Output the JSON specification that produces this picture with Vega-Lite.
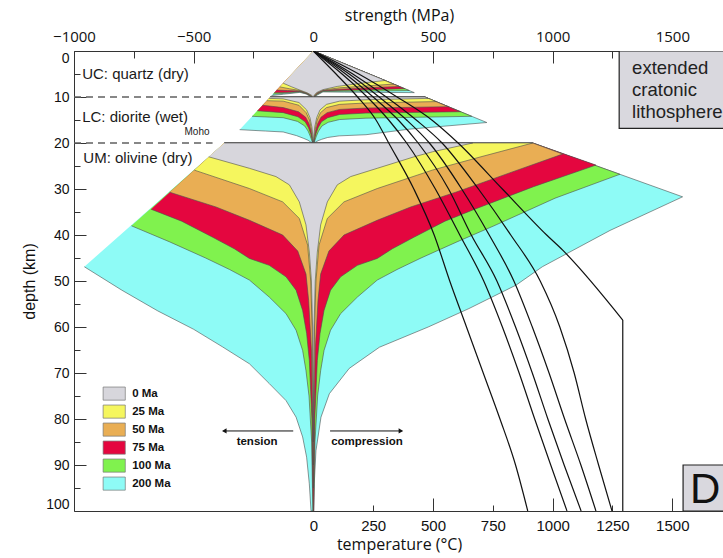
{
"$schema":"https://vega.github.io/schema/vega-lite/v6.json",
"width":650,"height":460,
"autosize":"none",
"padding":{"left":74,"top":51,"right":0,"bottom":47},
"background":"white",
"config":{"view":{"stroke":"#333","strokeWidth":1},"axis":{"grid":false,"domain":false,"tickColor":"#333","labelColor":"#111","titleColor":"#111","titleFontWeight":"normal","tickWidth":1}},
"datasets":{
"env":[
{"g":"U200","age":"200 Ma","S":0,"d":0},{"g":"U200","age":"200 Ma","S":422,"d":9.05},{"g":"U200","age":"200 Ma","S":260,"d":9.0},{"g":"U200","age":"200 Ma","S":130,"d":8.95},{"g":"U200","age":"200 Ma","S":40,"d":8.9},{"g":"U200","age":"200 Ma","S":19,"d":9.5},{"g":"U200","age":"200 Ma","S":9,"d":9.85},{"g":"U200","age":"200 Ma","S":5,"d":10},{"g":"U200","age":"200 Ma","S":-5,"d":10},{"g":"U200","age":"200 Ma","S":-13,"d":9.85},{"g":"U200","age":"200 Ma","S":-30,"d":9.35},{"g":"U200","age":"200 Ma","S":-56,"d":9.0},{"g":"U200","age":"200 Ma","S":-125,"d":9.4},{"g":"U200","age":"200 Ma","S":-175,"d":9.7},
{"g":"L200","age":"200 Ma","S":-180,"d":10},{"g":"L200","age":"200 Ma","S":466,"d":10},{"g":"L200","age":"200 Ma","S":725,"d":15.55},{"g":"L200","age":"200 Ma","S":400,"d":17.0},{"g":"L200","age":"200 Ma","S":220,"d":18.2},{"g":"L200","age":"200 Ma","S":108,"d":18.45},{"g":"L200","age":"200 Ma","S":60,"d":18.8},{"g":"L200","age":"200 Ma","S":35,"d":19.2},{"g":"L200","age":"200 Ma","S":20,"d":19.5},{"g":"L200","age":"200 Ma","S":10,"d":19.8},{"g":"L200","age":"200 Ma","S":6,"d":20},{"g":"L200","age":"200 Ma","S":-6,"d":20},{"g":"L200","age":"200 Ma","S":-11,"d":19.8},{"g":"L200","age":"200 Ma","S":-22,"d":19.4},{"g":"L200","age":"200 Ma","S":-40,"d":19.0},{"g":"L200","age":"200 Ma","S":-70,"d":18.4},{"g":"L200","age":"200 Ma","S":-126,"d":17.6},{"g":"L200","age":"200 Ma","S":-200,"d":17.4},{"g":"L200","age":"200 Ma","S":-308,"d":17.1},
{"g":"M200","age":"200 Ma","S":-372,"d":20},{"g":"M200","age":"200 Ma","S":917,"d":20},{"g":"M200","age":"200 Ma","S":1543,"d":31.7},{"g":"M200","age":"200 Ma","S":1240,"d":39},{"g":"M200","age":"200 Ma","S":957,"d":46.9},{"g":"M200","age":"200 Ma","S":847,"d":50.9},{"g":"M200","age":"200 Ma","S":650,"d":56},{"g":"M200","age":"200 Ma","S":480,"d":60},{"g":"M200","age":"200 Ma","S":276,"d":64.4},{"g":"M200","age":"200 Ma","S":150,"d":69},{"g":"M200","age":"200 Ma","S":67,"d":74.5},{"g":"M200","age":"200 Ma","S":32,"d":79.6},{"g":"M200","age":"200 Ma","S":11,"d":86.9},{"g":"M200","age":"200 Ma","S":4,"d":94},{"g":"M200","age":"200 Ma","S":1,"d":100},{"g":"M200","age":"200 Ma","S":-9.6,"d":100},{"g":"M200","age":"200 Ma","S":-16.7,"d":94.1},{"g":"M200","age":"200 Ma","S":-28,"d":88.3},{"g":"M200","age":"200 Ma","S":-44.7,"d":83.9},{"g":"M200","age":"200 Ma","S":-72,"d":79.6},{"g":"M200","age":"200 Ma","S":-114,"d":76},{"g":"M200","age":"200 Ma","S":-184,"d":72.3},{"g":"M200","age":"200 Ma","S":-267,"d":68},{"g":"M200","age":"200 Ma","S":-380,"d":64.3},{"g":"M200","age":"200 Ma","S":-500,"d":60.5},{"g":"M200","age":"200 Ma","S":-650,"d":56.5},{"g":"M200","age":"200 Ma","S":-800,"d":52},{"g":"M200","age":"200 Ma","S":-957,"d":46.9},
{"g":"U100","age":"100 Ma","S":0,"d":0},{"g":"U100","age":"100 Ma","S":401,"d":8.6},{"g":"U100","age":"100 Ma","S":250,"d":8.7},{"g":"U100","age":"100 Ma","S":125,"d":8.75},{"g":"U100","age":"100 Ma","S":40,"d":8.8},{"g":"U100","age":"100 Ma","S":18,"d":9.4},{"g":"U100","age":"100 Ma","S":8,"d":9.8},{"g":"U100","age":"100 Ma","S":4,"d":10},{"g":"U100","age":"100 Ma","S":-4,"d":10},{"g":"U100","age":"100 Ma","S":-12,"d":9.8},{"g":"U100","age":"100 Ma","S":-29,"d":9.3},{"g":"U100","age":"100 Ma","S":-56,"d":8.9},{"g":"U100","age":"100 Ma","S":-120,"d":9.2},{"g":"U100","age":"100 Ma","S":-169,"d":9.4},
{"g":"L100","age":"100 Ma","S":-180,"d":10},{"g":"L100","age":"100 Ma","S":466,"d":10},{"g":"L100","age":"100 Ma","S":662,"d":14.2},{"g":"L100","age":"100 Ma","S":220,"d":14.6},{"g":"L100","age":"100 Ma","S":110,"d":14.9},{"g":"L100","age":"100 Ma","S":62,"d":15.5},{"g":"L100","age":"100 Ma","S":36,"d":16.3},{"g":"L100","age":"100 Ma","S":22,"d":17.4},{"g":"L100","age":"100 Ma","S":13,"d":18.5},{"g":"L100","age":"100 Ma","S":7,"d":19.4},{"g":"L100","age":"100 Ma","S":3,"d":20},{"g":"L100","age":"100 Ma","S":-3,"d":20},{"g":"L100","age":"100 Ma","S":-7,"d":19.4},{"g":"L100","age":"100 Ma","S":-13,"d":18.5},{"g":"L100","age":"100 Ma","S":-22,"d":17.4},{"g":"L100","age":"100 Ma","S":-36,"d":16.3},{"g":"L100","age":"100 Ma","S":-66,"d":15.3},{"g":"L100","age":"100 Ma","S":-126,"d":14.5},{"g":"L100","age":"100 Ma","S":-256,"d":14.2},
{"g":"M100","age":"100 Ma","S":-372,"d":20},{"g":"M100","age":"100 Ma","S":917,"d":20},{"g":"M100","age":"100 Ma","S":1281,"d":26.8},{"g":"M100","age":"100 Ma","S":1010,"d":32},{"g":"M100","age":"100 Ma","S":755,"d":38},{"g":"M100","age":"100 Ma","S":600,"d":41.5},{"g":"M100","age":"100 Ma","S":450,"d":45},{"g":"M100","age":"100 Ma","S":350,"d":47.5},{"g":"M100","age":"100 Ma","S":267,"d":49.8},{"g":"M100","age":"100 Ma","S":184,"d":53.5},{"g":"M100","age":"100 Ma","S":114,"d":57.1},{"g":"M100","age":"100 Ma","S":72,"d":60.7},{"g":"M100","age":"100 Ma","S":44.7,"d":65.1},{"g":"M100","age":"100 Ma","S":30.6,"d":69.5},{"g":"M100","age":"100 Ma","S":18,"d":75},{"g":"M100","age":"100 Ma","S":7,"d":85},{"g":"M100","age":"100 Ma","S":2,"d":100},{"g":"M100","age":"100 Ma","S":-2,"d":100},{"g":"M100","age":"100 Ma","S":-7,"d":85},{"g":"M100","age":"100 Ma","S":-18,"d":75},{"g":"M100","age":"100 Ma","S":-30.6,"d":69.5},{"g":"M100","age":"100 Ma","S":-44.7,"d":65.1},{"g":"M100","age":"100 Ma","S":-72,"d":60.7},{"g":"M100","age":"100 Ma","S":-114,"d":57.1},{"g":"M100","age":"100 Ma","S":-184,"d":53.5},{"g":"M100","age":"100 Ma","S":-267,"d":49.8},{"g":"M100","age":"100 Ma","S":-350,"d":47.5},{"g":"M100","age":"100 Ma","S":-450,"d":45},{"g":"M100","age":"100 Ma","S":-600,"d":41.5},{"g":"M100","age":"100 Ma","S":-760,"d":38},
{"g":"U75","age":"75 Ma","S":0,"d":0},{"g":"U75","age":"75 Ma","S":382,"d":8.2},{"g":"U75","age":"75 Ma","S":240,"d":8.4},{"g":"U75","age":"75 Ma","S":120,"d":8.55},{"g":"U75","age":"75 Ma","S":40,"d":8.7},{"g":"U75","age":"75 Ma","S":17,"d":9.3},{"g":"U75","age":"75 Ma","S":7,"d":9.75},{"g":"U75","age":"75 Ma","S":3,"d":10},{"g":"U75","age":"75 Ma","S":-3,"d":10},{"g":"U75","age":"75 Ma","S":-11,"d":9.75},{"g":"U75","age":"75 Ma","S":-28,"d":9.25},{"g":"U75","age":"75 Ma","S":-56,"d":8.8},{"g":"U75","age":"75 Ma","S":-115,"d":9.0},{"g":"U75","age":"75 Ma","S":-164,"d":9.1},
{"g":"L75","age":"75 Ma","S":-180,"d":10},{"g":"L75","age":"75 Ma","S":466,"d":10},{"g":"L75","age":"75 Ma","S":615,"d":13.2},{"g":"L75","age":"75 Ma","S":220,"d":13.5},{"g":"L75","age":"75 Ma","S":110,"d":13.8},{"g":"L75","age":"75 Ma","S":60,"d":14.5},{"g":"L75","age":"75 Ma","S":34,"d":15.4},{"g":"L75","age":"75 Ma","S":20,"d":16.7},{"g":"L75","age":"75 Ma","S":11,"d":18},{"g":"L75","age":"75 Ma","S":5,"d":19.2},{"g":"L75","age":"75 Ma","S":2,"d":20},{"g":"L75","age":"75 Ma","S":-2,"d":20},{"g":"L75","age":"75 Ma","S":-5,"d":19.2},{"g":"L75","age":"75 Ma","S":-11,"d":18},{"g":"L75","age":"75 Ma","S":-20,"d":16.7},{"g":"L75","age":"75 Ma","S":-34,"d":15.4},{"g":"L75","age":"75 Ma","S":-64,"d":14.3},{"g":"L75","age":"75 Ma","S":-126,"d":13.4},{"g":"L75","age":"75 Ma","S":-234,"d":13.0},
{"g":"M75","age":"75 Ma","S":-372,"d":20},{"g":"M75","age":"75 Ma","S":917,"d":20},{"g":"M75","age":"75 Ma","S":1181,"d":24.8},{"g":"M75","age":"75 Ma","S":920,"d":29.5},{"g":"M75","age":"75 Ma","S":674,"d":34.4},{"g":"M75","age":"75 Ma","S":550,"d":37},{"g":"M75","age":"75 Ma","S":420,"d":40.5},{"g":"M75","age":"75 Ma","S":330,"d":43},{"g":"M75","age":"75 Ma","S":267,"d":45.1},{"g":"M75","age":"75 Ma","S":184,"d":46.6},{"g":"M75","age":"75 Ma","S":114,"d":49.1},{"g":"M75","age":"75 Ma","S":72,"d":52},{"g":"M75","age":"75 Ma","S":44.7,"d":56.4},{"g":"M75","age":"75 Ma","S":28,"d":61.4},{"g":"M75","age":"75 Ma","S":16.7,"d":67.3},{"g":"M75","age":"75 Ma","S":6,"d":80},{"g":"M75","age":"75 Ma","S":1,"d":100},{"g":"M75","age":"75 Ma","S":-1,"d":100},{"g":"M75","age":"75 Ma","S":-6,"d":80},{"g":"M75","age":"75 Ma","S":-16.7,"d":67.3},{"g":"M75","age":"75 Ma","S":-28,"d":61.4},{"g":"M75","age":"75 Ma","S":-44.7,"d":56.4},{"g":"M75","age":"75 Ma","S":-72,"d":52},{"g":"M75","age":"75 Ma","S":-114,"d":49.1},{"g":"M75","age":"75 Ma","S":-184,"d":46.6},{"g":"M75","age":"75 Ma","S":-267,"d":45.1},{"g":"M75","age":"75 Ma","S":-330,"d":43},{"g":"M75","age":"75 Ma","S":-420,"d":40.5},{"g":"M75","age":"75 Ma","S":-550,"d":37},{"g":"M75","age":"75 Ma","S":-678,"d":34.4},
{"g":"U50","age":"50 Ma","S":0,"d":0},{"g":"U50","age":"50 Ma","S":359,"d":7.7},{"g":"U50","age":"50 Ma","S":230,"d":8.0},{"g":"U50","age":"50 Ma","S":115,"d":8.3},{"g":"U50","age":"50 Ma","S":40,"d":8.6},{"g":"U50","age":"50 Ma","S":16,"d":9.2},{"g":"U50","age":"50 Ma","S":6,"d":9.7},{"g":"U50","age":"50 Ma","S":2,"d":10},{"g":"U50","age":"50 Ma","S":-2,"d":10},{"g":"U50","age":"50 Ma","S":-10,"d":9.7},{"g":"U50","age":"50 Ma","S":-27,"d":9.2},{"g":"U50","age":"50 Ma","S":-56,"d":8.7},{"g":"U50","age":"50 Ma","S":-108,"d":8.6},{"g":"U50","age":"50 Ma","S":-153,"d":8.5},
{"g":"L50","age":"50 Ma","S":-180,"d":10},{"g":"L50","age":"50 Ma","S":466,"d":10},{"g":"L50","age":"50 Ma","S":564,"d":12.1},{"g":"L50","age":"50 Ma","S":220,"d":12.4},{"g":"L50","age":"50 Ma","S":110,"d":12.7},{"g":"L50","age":"50 Ma","S":58,"d":13.4},{"g":"L50","age":"50 Ma","S":32,"d":14.4},{"g":"L50","age":"50 Ma","S":18,"d":15.8},{"g":"L50","age":"50 Ma","S":9,"d":17.5},{"g":"L50","age":"50 Ma","S":4,"d":19},{"g":"L50","age":"50 Ma","S":1,"d":20},{"g":"L50","age":"50 Ma","S":-1,"d":20},{"g":"L50","age":"50 Ma","S":-4,"d":19},{"g":"L50","age":"50 Ma","S":-9,"d":17.5},{"g":"L50","age":"50 Ma","S":-18,"d":15.8},{"g":"L50","age":"50 Ma","S":-32,"d":14.4},{"g":"L50","age":"50 Ma","S":-62,"d":13.2},{"g":"L50","age":"50 Ma","S":-126,"d":12.3},{"g":"L50","age":"50 Ma","S":-212,"d":11.8},
{"g":"M50","age":"50 Ma","S":-372,"d":20},{"g":"M50","age":"50 Ma","S":917,"d":20},{"g":"M50","age":"50 Ma","S":1042,"d":22.4},{"g":"M50","age":"50 Ma","S":820,"d":26.5},{"g":"M50","age":"50 Ma","S":595,"d":30.7},{"g":"M50","age":"50 Ma","S":407,"d":33.9},{"g":"M50","age":"50 Ma","S":267,"d":36.8},{"g":"M50","age":"50 Ma","S":128,"d":40},{"g":"M50","age":"50 Ma","S":65,"d":43.5},{"g":"M50","age":"50 Ma","S":30.6,"d":48.5},{"g":"M50","age":"50 Ma","S":19.6,"d":54.2},{"g":"M50","age":"50 Ma","S":8,"d":65},{"g":"M50","age":"50 Ma","S":3,"d":80},{"g":"M50","age":"50 Ma","S":0,"d":95},{"g":"M50","age":"50 Ma","S":-3,"d":80},{"g":"M50","age":"50 Ma","S":-8,"d":65},{"g":"M50","age":"50 Ma","S":-19.6,"d":54.2},{"g":"M50","age":"50 Ma","S":-30.6,"d":48.5},{"g":"M50","age":"50 Ma","S":-65,"d":43.5},{"g":"M50","age":"50 Ma","S":-128,"d":40},{"g":"M50","age":"50 Ma","S":-267,"d":36.8},{"g":"M50","age":"50 Ma","S":-407,"d":33.9},{"g":"M50","age":"50 Ma","S":-600,"d":30.7},
{"g":"U25","age":"25 Ma","S":0,"d":0},{"g":"U25","age":"25 Ma","S":335,"d":7.2},{"g":"U25","age":"25 Ma","S":220,"d":7.6},{"g":"U25","age":"25 Ma","S":110,"d":8.0},{"g":"U25","age":"25 Ma","S":40,"d":8.5},{"g":"U25","age":"25 Ma","S":15,"d":9.1},{"g":"U25","age":"25 Ma","S":5,"d":9.6},{"g":"U25","age":"25 Ma","S":1,"d":10},{"g":"U25","age":"25 Ma","S":-1,"d":10},{"g":"U25","age":"25 Ma","S":-9,"d":9.65},{"g":"U25","age":"25 Ma","S":-26,"d":9.15},{"g":"U25","age":"25 Ma","S":-56,"d":8.6},{"g":"U25","age":"25 Ma","S":-100,"d":8.2},{"g":"U25","age":"25 Ma","S":-140,"d":7.8},
{"g":"L25","age":"25 Ma","S":-180,"d":10},{"g":"L25","age":"25 Ma","S":466,"d":10},{"g":"L25","age":"25 Ma","S":513,"d":11.0},{"g":"L25","age":"25 Ma","S":220,"d":11.3},{"g":"L25","age":"25 Ma","S":110,"d":11.6},{"g":"L25","age":"25 Ma","S":55,"d":12.3},{"g":"L25","age":"25 Ma","S":30,"d":13.4},{"g":"L25","age":"25 Ma","S":16,"d":15},{"g":"L25","age":"25 Ma","S":8,"d":17},{"g":"L25","age":"25 Ma","S":3,"d":19},{"g":"L25","age":"25 Ma","S":0.5,"d":20},{"g":"L25","age":"25 Ma","S":-0.5,"d":20},{"g":"L25","age":"25 Ma","S":-3,"d":19},{"g":"L25","age":"25 Ma","S":-8,"d":17},{"g":"L25","age":"25 Ma","S":-16,"d":15},{"g":"L25","age":"25 Ma","S":-30,"d":13.4},{"g":"L25","age":"25 Ma","S":-60,"d":11.8},{"g":"L25","age":"25 Ma","S":-126,"d":10.9},{"g":"L25","age":"25 Ma","S":-194,"d":10.8},
{"g":"M25","age":"25 Ma","S":-372,"d":20},{"g":"M25","age":"25 Ma","S":917,"d":20},{"g":"M25","age":"25 Ma","S":700,"d":23},{"g":"M25","age":"25 Ma","S":497,"d":25.9},{"g":"M25","age":"25 Ma","S":267,"d":29.9},{"g":"M25","age":"25 Ma","S":128,"d":32.8},{"g":"M25","age":"25 Ma","S":58.5,"d":36.4},{"g":"M25","age":"25 Ma","S":23.8,"d":42.2},{"g":"M25","age":"25 Ma","S":11,"d":50},{"g":"M25","age":"25 Ma","S":5,"d":60},{"g":"M25","age":"25 Ma","S":1.5,"d":75},{"g":"M25","age":"25 Ma","S":0,"d":90},{"g":"M25","age":"25 Ma","S":-1.5,"d":75},{"g":"M25","age":"25 Ma","S":-5,"d":60},{"g":"M25","age":"25 Ma","S":-11,"d":50},{"g":"M25","age":"25 Ma","S":-23.8,"d":42.2},{"g":"M25","age":"25 Ma","S":-58.5,"d":36.4},{"g":"M25","age":"25 Ma","S":-128,"d":32.8},{"g":"M25","age":"25 Ma","S":-267,"d":29.9},{"g":"M25","age":"25 Ma","S":-497,"d":25.9},
{"g":"U0","age":"0 Ma","S":0,"d":0},{"g":"U0","age":"0 Ma","S":300,"d":6.4},{"g":"U0","age":"0 Ma","S":200,"d":7.0},{"g":"U0","age":"0 Ma","S":100,"d":7.7},{"g":"U0","age":"0 Ma","S":40,"d":8.4},{"g":"U0","age":"0 Ma","S":15,"d":9.0},{"g":"U0","age":"0 Ma","S":5,"d":9.5},{"g":"U0","age":"0 Ma","S":0,"d":10},{"g":"U0","age":"0 Ma","S":-8,"d":9.6},{"g":"U0","age":"0 Ma","S":-25,"d":9.1},{"g":"U0","age":"0 Ma","S":-56,"d":8.5},{"g":"U0","age":"0 Ma","S":-90,"d":7.8},{"g":"U0","age":"0 Ma","S":-126,"d":7.0},
{"g":"L0","age":"0 Ma","S":-180,"d":10},{"g":"L0","age":"0 Ma","S":466,"d":10},{"g":"L0","age":"0 Ma","S":480,"d":10.3},{"g":"L0","age":"0 Ma","S":220,"d":10.6},{"g":"L0","age":"0 Ma","S":110,"d":10.9},{"g":"L0","age":"0 Ma","S":55,"d":11.6},{"g":"L0","age":"0 Ma","S":28,"d":12.8},{"g":"L0","age":"0 Ma","S":14,"d":14.5},{"g":"L0","age":"0 Ma","S":6,"d":16.5},{"g":"L0","age":"0 Ma","S":2,"d":18.5},{"g":"L0","age":"0 Ma","S":0,"d":20},{"g":"L0","age":"0 Ma","S":-2,"d":18.5},{"g":"L0","age":"0 Ma","S":-6,"d":16.5},{"g":"L0","age":"0 Ma","S":-14,"d":14.5},{"g":"L0","age":"0 Ma","S":-28,"d":12.8},{"g":"L0","age":"0 Ma","S":-60,"d":11.2},{"g":"L0","age":"0 Ma","S":-126,"d":10.4},{"g":"L0","age":"0 Ma","S":-185,"d":10.3},
{"g":"M0","age":"0 Ma","S":-372,"d":20},{"g":"M0","age":"0 Ma","S":666,"d":20},{"g":"M0","age":"0 Ma","S":499,"d":21.9},{"g":"M0","age":"0 Ma","S":421,"d":23},{"g":"M0","age":"0 Ma","S":267,"d":25.5},{"g":"M0","age":"0 Ma","S":156,"d":27.3},{"g":"M0","age":"0 Ma","S":100,"d":29.1},{"g":"M0","age":"0 Ma","S":58.5,"d":32.8},{"g":"M0","age":"0 Ma","S":30.6,"d":37.8},{"g":"M0","age":"0 Ma","S":16.7,"d":43.7},{"g":"M0","age":"0 Ma","S":8,"d":50},{"g":"M0","age":"0 Ma","S":3,"d":60},{"g":"M0","age":"0 Ma","S":0.8,"d":75},{"g":"M0","age":"0 Ma","S":0,"d":85},{"g":"M0","age":"0 Ma","S":-0.8,"d":75},{"g":"M0","age":"0 Ma","S":-3,"d":60},{"g":"M0","age":"0 Ma","S":-8,"d":50},{"g":"M0","age":"0 Ma","S":-16.7,"d":43.7},{"g":"M0","age":"0 Ma","S":-30.6,"d":37.8},{"g":"M0","age":"0 Ma","S":-58.5,"d":32.8},{"g":"M0","age":"0 Ma","S":-100,"d":29.1},{"g":"M0","age":"0 Ma","S":-156,"d":27.3},{"g":"M0","age":"0 Ma","S":-267,"d":25.5},{"g":"M0","age":"0 Ma","S":-437,"d":23}
],
"geo":[
{"g":"200","T":0,"d":0},{"g":"200","T":95,"d":5},{"g":"200","T":185,"d":10},{"g":"200","T":262,"d":15},{"g":"200","T":315,"d":20},{"g":"200","T":420,"d":30},{"g":"200","T":505,"d":40},{"g":"200","T":570,"d":50},{"g":"200","T":640,"d":60},{"g":"200","T":710,"d":70},{"g":"200","T":780,"d":80},{"g":"200","T":845,"d":90},{"g":"200","T":896,"d":100},
{"g":"100","T":0,"d":0},{"g":"100","T":120,"d":5},{"g":"100","T":225,"d":10},{"g":"100","T":315,"d":15},{"g":"100","T":390,"d":20},{"g":"100","T":510,"d":30},{"g":"100","T":612,"d":40},{"g":"100","T":712,"d":50},{"g":"100","T":790,"d":60},{"g":"100","T":860,"d":70},{"g":"100","T":925,"d":80},{"g":"100","T":992,"d":90},{"g":"100","T":1060,"d":100},
{"g":"75","T":0,"d":0},{"g":"75","T":135,"d":5},{"g":"75","T":250,"d":10},{"g":"75","T":355,"d":15},{"g":"75","T":438,"d":20},{"g":"75","T":565,"d":30},{"g":"75","T":660,"d":40},{"g":"75","T":767,"d":50},{"g":"75","T":845,"d":60},{"g":"75","T":915,"d":70},{"g":"75","T":980,"d":80},{"g":"75","T":1048,"d":90},{"g":"75","T":1119,"d":100},
{"g":"50","T":0,"d":0},{"g":"50","T":150,"d":5},{"g":"50","T":275,"d":10},{"g":"50","T":390,"d":15},{"g":"50","T":485,"d":20},{"g":"50","T":620,"d":30},{"g":"50","T":735,"d":40},{"g":"50","T":838,"d":50},{"g":"50","T":915,"d":60},{"g":"50","T":985,"d":70},{"g":"50","T":1050,"d":80},{"g":"50","T":1118,"d":90},{"g":"50","T":1181,"d":100},
{"g":"25","T":0,"d":0},{"g":"25","T":165,"d":5},{"g":"25","T":305,"d":10},{"g":"25","T":430,"d":15},{"g":"25","T":538,"d":20},{"g":"25","T":690,"d":30},{"g":"25","T":825,"d":40},{"g":"25","T":948,"d":50},{"g":"25","T":1030,"d":60},{"g":"25","T":1090,"d":70},{"g":"25","T":1138,"d":80},{"g":"25","T":1192,"d":90},{"g":"25","T":1248,"d":100},
{"g":"0","T":0,"d":0},{"g":"0","T":190,"d":5},{"g":"0","T":350,"d":10},{"g":"0","T":495,"d":15},{"g":"0","T":605,"d":20},{"g":"0","T":790,"d":30},{"g":"0","T":975,"d":40},{"g":"0","T":1042,"d":43.3},{"g":"0","T":1293,"d":58.5},
{"g":"0v","T":1293,"d":58.5},{"g":"0v","T":1293,"d":100}
]
},
"layer":[
{"data":{"name":"env"},
 "mark":{"type":"line","stroke":"#4d4d4d","strokeWidth":0.6,"clip":true},
 "encoding":{
  "x":{"field":"S","type":"quantitative","scale":{"domain":[-1000,1716],"nice":false,"zero":false},
   "axis":{"orient":"top","title":"strength (MPa)","values":[-1000,-500,0,500,1000,1500],"format":"d","labelFlush":false,"tickSize":-12,"labelPadding":19,"labelFont":"Open Sans","labelFontSize":15,"titleFont":"Open Sans","titleFontSize":16,"titlePadding":6}},
  "y":{"field":"d","type":"quantitative","scale":{"domain":[0,100],"reverse":true,"nice":false,"zero":false},
   "axis":{"orient":"left","title":"depth (km)","values":[0,10,20,30,40,50,60,70,80,90,100],"labelFlush":true,"tickSize":-12,"labelPadding":17,"labelFont":"Liberation Sans","labelFontSize":14,"titleFont":"Liberation Sans","titleFontSize":16,"titlePadding":8}},
  "detail":{"field":"g"},
  "fill":{"field":"age","type":"nominal","scale":{"domain":["0 Ma","25 Ma","50 Ma","75 Ma","100 Ma","200 Ma"],"range":["#d7d6dc","#f5f65e","#e9ae54","#e4063f","#80f24e","#8efbf6"]},
   "legend":{"orient":"none","legendX":30.2,"legendY":332.6,"title":null,"symbolType":"M-1.15,-0.68H1.15V0.68H-1.15Z","symbolSize":372,"symbolStrokeColor":"#777","symbolStrokeWidth":0.7,"symbolOpacity":1,"labelFont":"Liberation Sans","labelFontSize":11.5,"labelFontWeight":"bold","labelColor":"#111","labelOffset":8,"rowPadding":0,"padding":0}},
  "order":{"value":null}
 }},
{"data":{"values":[{"S":-1000,"S2":-213,"d":10},{"S":-1000,"S2":-421,"d":20}]},
 "mark":{"type":"rule","strokeDash":[7,5],"color":"#606060","strokeWidth":1.4},
 "encoding":{"x":{"field":"S","type":"quantitative","scale":{"domain":[-1000,1716],"nice":false,"zero":false},
   "axis":{"orient":"top","title":null,"values":[-750,-250,250,750,1250],"labels":false,"tickSize":-7}},
  "x2":{"field":"S2"},
  "y":{"field":"d","type":"quantitative","scale":{"domain":[0,100],"reverse":true,"nice":false,"zero":false},
   "axis":{"orient":"left","title":null,"values":[5,15,25,35,45,55,65,75,85,95],"labels":false,"tickSize":-6}}}},
{"data":{"name":"geo"},
 "mark":{"type":"line","color":"#111","strokeWidth":1.2,"clip":true,"interpolate":"monotone"},
 "encoding":{
  "x":{"field":"T","type":"quantitative","scale":{"domain":[-1000,1716],"nice":false,"zero":false},
   "axis":{"orient":"bottom","title":"temperature (°C)","values":[0,500,1000,1500],"format":"d","labelFlush":false,"tickSize":-13,"labelPadding":20,"labelFont":"Liberation Sans","labelFontSize":15,"titleFont":"Open Sans","titleFontSize":16,"titlePadding":3}},
  "y":{"field":"d","type":"quantitative","scale":{"domain":[0,100],"reverse":true,"nice":false,"zero":false},"axis":null},
  "detail":{"field":"g"},
  "order":{"field":"d"}
 }},
{"data":{"values":[{"S":-84,"S2":-375,"d":82.6},{"S":70,"S2":368,"d":82.6}]},
 "mark":{"type":"rule","color":"#111","strokeWidth":1},
 "encoding":{"x":{"field":"S","type":"quantitative","scale":{"domain":[-1000,1716],"nice":false,"zero":false},
   "axis":{"orient":"bottom","title":null,"values":[250,750,1250],"format":"d","labelFlush":false,"tickSize":-6,"labelPadding":13,"labelFont":"Liberation Sans","labelFontSize":15}},
  "x2":{"field":"S2"},"y":{"field":"d","type":"quantitative","scale":{"domain":[0,100],"reverse":true,"nice":false,"zero":false},"axis":null}}},
{"data":{"values":[{"txt":"UC: quartz (dry)","S":-966,"d":5.0},{"txt":"LC: diorite (wet)","S":-966,"d":14.35},{"txt":"UM: olivine (dry)","S":-961,"d":23.3}]},
 "mark":{"type":"text","align":"left","baseline":"middle","font":"Liberation Sans","fontSize":15,"color":"#1a1a1a"},
 "encoding":{"x":{"field":"S","type":"quantitative","scale":{"domain":[-1000,1716],"nice":false,"zero":false},"axis":null},"y":{"field":"d","type":"quantitative","scale":{"domain":[0,100],"reverse":true,"nice":false,"zero":false},"axis":null},"text":{"field":"txt"}}},
{"data":{"values":[{"txt":"Moho","S":-486,"d":17.6}]},
 "mark":{"type":"text","align":"center","baseline":"middle","font":"Liberation Sans","fontSize":10,"color":"#1a1a1a"},
 "encoding":{"x":{"field":"S","type":"quantitative","scale":{"domain":[-1000,1716],"nice":false,"zero":false},"axis":null},"y":{"field":"d","type":"quantitative","scale":{"domain":[0,100],"reverse":true,"nice":false,"zero":false},"axis":null},"text":{"field":"txt"}}},
{"data":{"values":[{"txt":"tension","S":-235,"d":85.0},{"txt":"compression","S":224,"d":85.0}]},
 "mark":{"type":"text","align":"center","baseline":"middle","font":"Liberation Sans","fontSize":11.5,"fontWeight":"bold","color":"#111"},
 "encoding":{"x":{"field":"S","type":"quantitative","scale":{"domain":[-1000,1716],"nice":false,"zero":false},"axis":null},"y":{"field":"d","type":"quantitative","scale":{"domain":[0,100],"reverse":true,"nice":false,"zero":false},"axis":null},"text":{"field":"txt"}}},
{"data":{"values":[{"S":-372,"d":82.6,"dir":"left"},{"S":366,"d":82.6,"dir":"right"}]},
 "mark":{"type":"point","filled":true,"color":"#111","size":28,"opacity":1},
 "encoding":{"x":{"field":"S","type":"quantitative","scale":{"domain":[-1000,1716],"nice":false,"zero":false},"axis":null},"y":{"field":"d","type":"quantitative","scale":{"domain":[0,100],"reverse":true,"nice":false,"zero":false},"axis":null},"shape":{"field":"dir","type":"nominal","scale":{"domain":["left","right"],"range":["triangle-left","triangle-right"]},"legend":null}}},
{"data":{"values":[{"S":1278,"S2":1800,"d":0,"d2":16.8},{"S":1545,"S2":1800,"d":90.0,"d2":100}]},
 "mark":{"type":"rect","fill":"#d9d8de","stroke":"#222","strokeWidth":1.2,"clip":true},
 "encoding":{"x":{"field":"S","type":"quantitative","scale":{"domain":[-1000,1716],"nice":false,"zero":false},"axis":null},"x2":{"field":"S2"},"y":{"field":"d","type":"quantitative","scale":{"domain":[0,100],"reverse":true,"nice":false,"zero":false},"axis":null},"y2":{"field":"d2"}}},
{"data":{"values":[{"txt":"extended","S":1332,"d":3.63},{"txt":"cratonic","S":1332,"d":8.41},{"txt":"lithosphere","S":1332,"d":13.2}]},
 "mark":{"type":"text","align":"left","baseline":"middle","font":"Liberation Sans","fontSize":18.5,"color":"#222"},
 "encoding":{"x":{"field":"S","type":"quantitative","scale":{"domain":[-1000,1716],"nice":false,"zero":false},"axis":null},"y":{"field":"d","type":"quantitative","scale":{"domain":[0,100],"reverse":true,"nice":false,"zero":false},"axis":null},"text":{"field":"txt"}}},
{"data":{"values":[{"txt":"D","S":1574,"d":95.4}]},
 "mark":{"type":"text","align":"left","baseline":"middle","font":"Liberation Sans","fontSize":42,"color":"#111"},
 "encoding":{"x":{"field":"S","type":"quantitative","scale":{"domain":[-1000,1716],"nice":false,"zero":false},"axis":null},"y":{"field":"d","type":"quantitative","scale":{"domain":[0,100],"reverse":true,"nice":false,"zero":false},"axis":null},"text":{"field":"txt"}}}
],
"resolve":{"axis":{"x":"independent","y":"independent"},"scale":{"x":"shared","y":"shared"}}
}
